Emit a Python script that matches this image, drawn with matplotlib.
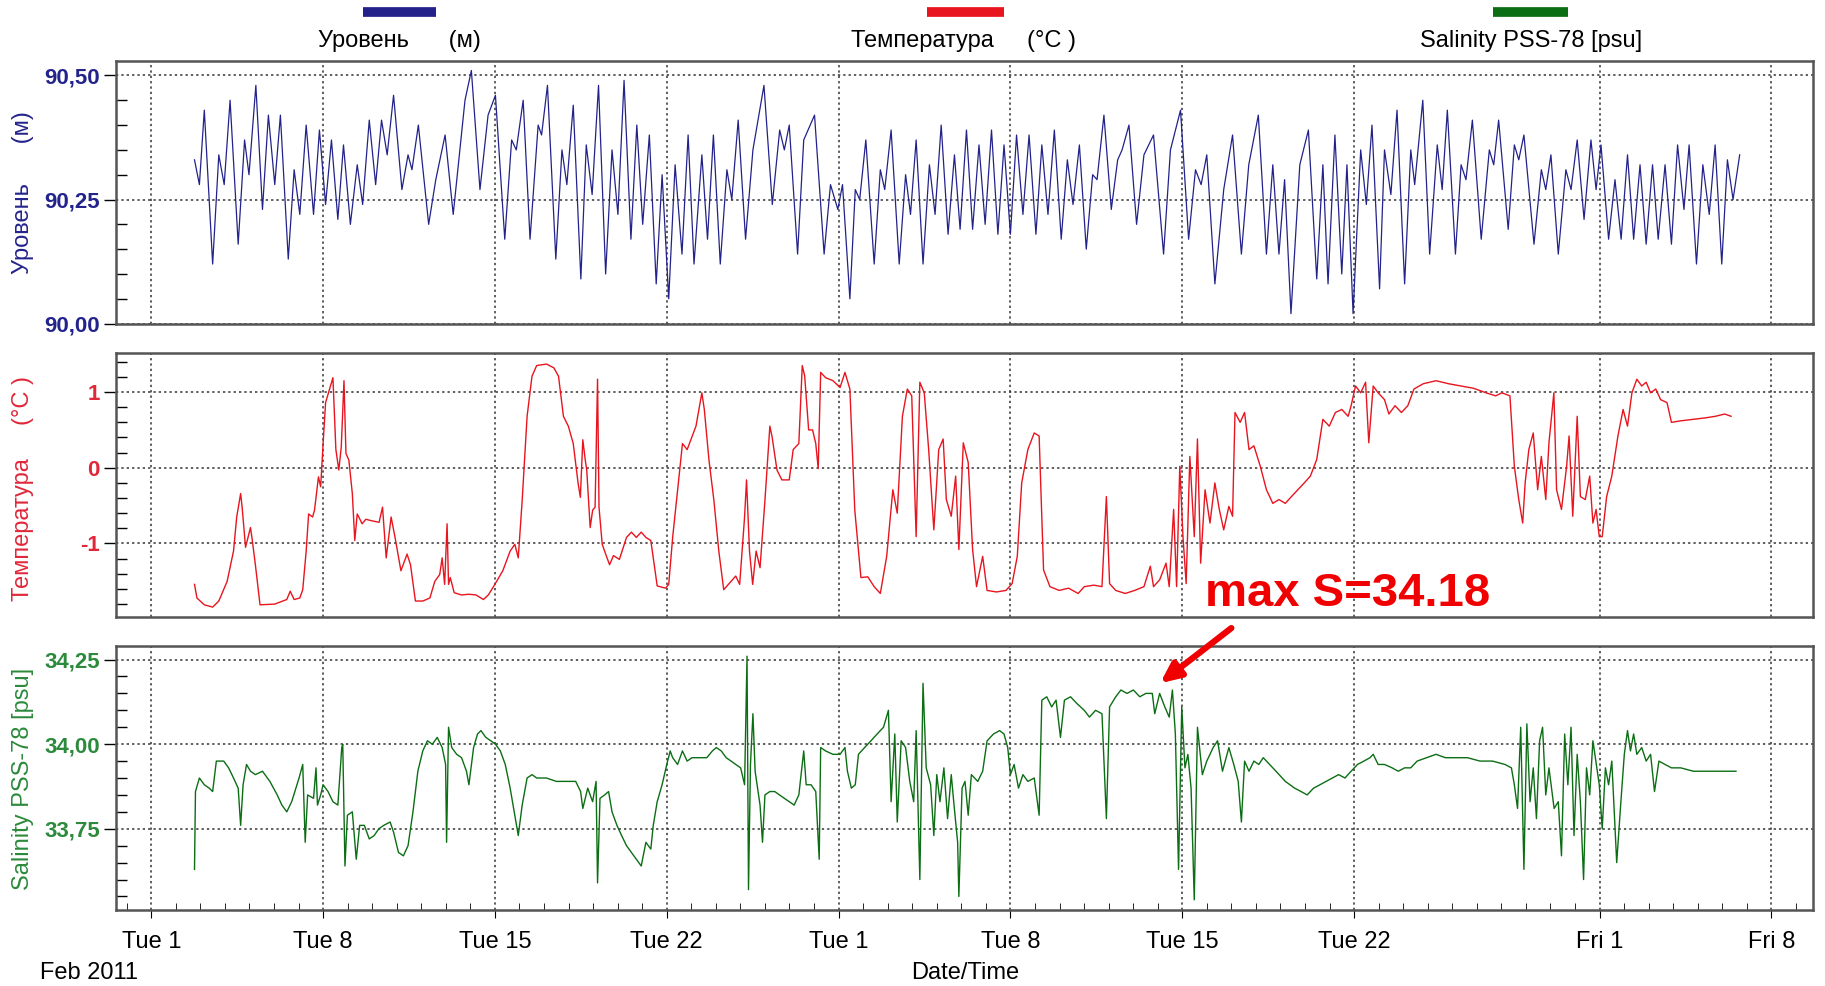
import matplotlib
matplotlib.use('Agg')
import matplotlib.pyplot as plt
from matplotlib.lines import Line2D
from matplotlib.ticker import MultipleLocator, FixedLocator

plt.rcParams['font.family'] = ['Liberation Sans', 'DejaVu Sans']

# time axis: days since Tue 1 Feb 2011
tick_days = [0, 7, 14, 21, 28, 35, 42, 49, 59, 66]
tick_labels = ['Tue 1', 'Tue 8', 'Tue 15', 'Tue 22', 'Tue 1', 'Tue 8',
               'Tue 15', 'Tue 22', 'Fri 1', 'Fri 8']

# water level, m (tidal highs / lows)
level_t = [1.76, 1.96, 2.16, 2.50, 2.75, 2.97, 3.21, 3.54, 3.80, 3.98, 4.26, 4.53,
           4.77, 5.03, 5.26, 5.58, 5.82, 6.05, 6.31, 6.61, 6.85, 7.10, 7.34, 7.60,
           7.83, 8.11, 8.39, 8.61, 8.88, 9.14, 9.38, 9.61, 9.87, 10.21, 10.46, 10.62,
           10.88, 11.30, 11.59, 11.97, 12.30, 12.78, 13.04, 13.39, 13.72, 14.02, 14.40,
           14.68, 14.87, 15.15, 15.43, 15.76, 15.90, 16.14, 16.48, 16.73, 16.93, 17.19,
           17.50, 17.72, 17.96, 18.22, 18.51, 18.77, 19.01, 19.26, 19.54, 19.78, 20.02,
           20.29, 20.57, 20.81, 21.08, 21.34, 21.62, 21.87, 22.11, 22.43, 22.66, 22.90,
           23.18, 23.45, 23.65, 23.91, 24.21, 24.51, 24.96, 25.30, 25.60, 25.79, 25.99,
           26.33, 26.58, 27.02, 27.41, 27.67, 27.97, 28.16, 28.46,
           28.68, 28.86, 29.11, 29.45, 29.70, 29.88, 30.14, 30.47, 30.73, 30.93, 31.16,
           31.44, 31.70, 31.93, 32.18, 32.46, 32.72, 32.95, 33.21, 33.46, 33.72, 33.97,
           34.23, 34.49, 34.74, 35.00, 35.25, 35.51, 35.76, 36.04, 36.28, 36.53, 36.79,
           37.07, 37.32, 37.55, 37.81, 38.09, 38.35, 38.53, 38.81, 39.11, 39.37, 39.55,
           39.83, 40.14, 40.44, 40.83, 41.24, 41.52, 41.93, 42.26, 42.54, 42.77, 43.00,
           43.33, 43.69, 44.05, 44.41, 44.71, 45.10, 45.43, 45.69, 45.94, 46.17, 46.43,
           46.79, 47.14, 47.48, 47.73, 47.94, 48.22, 48.50, 48.71, 48.96, 49.27, 49.50,
           49.73, 50.04, 50.24, 50.50, 50.75, 51.06, 51.31, 51.47, 51.80, 52.08, 52.39,
           52.59, 52.80, 53.13, 53.36, 53.56, 53.82, 54.18, 54.51, 54.69, 54.89, 55.28,
           55.53, 55.71, 55.92, 56.33, 56.63, 56.81, 57.02, 57.32, 57.63, 57.84, 58.09,
           58.37, 58.65, 58.86, 59.06, 59.37, 59.63, 59.88, 60.14, 60.39, 60.65, 60.90,
           61.16, 61.39, 61.67, 61.93, 62.18, 62.44, 62.65, 62.95, 63.21, 63.47, 63.71,
           63.98, 64.21, 64.44, 64.71]
level_v = [90.33, 90.28, 90.43, 90.12, 90.34, 90.28, 90.45, 90.16, 90.37, 90.30, 90.48, 90.23,
           90.42, 90.28, 90.42, 90.13, 90.31, 90.22, 90.40, 90.22, 90.39, 90.24, 90.37, 90.21,
           90.36, 90.20, 90.32, 90.24, 90.41, 90.28, 90.41, 90.34, 90.46, 90.27, 90.34, 90.31,
           90.40, 90.20, 90.29, 90.38, 90.22, 90.45, 90.51, 90.27, 90.42, 90.46, 90.17,
           90.37, 90.35, 90.45, 90.17, 90.40, 90.38, 90.48, 90.13, 90.35, 90.28, 90.44,
           90.09, 90.36, 90.26, 90.48, 90.10, 90.35, 90.22, 90.49, 90.17, 90.40, 90.20,
           90.38, 90.08, 90.30, 90.05, 90.32, 90.14, 90.38, 90.12, 90.34, 90.17, 90.38,
           90.12, 90.31, 90.25, 90.41, 90.17, 90.35, 90.48, 90.24, 90.39, 90.35, 90.40,
           90.14, 90.37, 90.42, 90.14, 90.28, 90.23, 90.28, 90.05,
           90.27, 90.25, 90.37, 90.12, 90.31, 90.27, 90.39, 90.12, 90.30, 90.22, 90.37,
           90.12, 90.32, 90.22, 90.40, 90.18, 90.34, 90.19, 90.39, 90.19, 90.36, 90.20,
           90.39, 90.18, 90.36, 90.18, 90.38, 90.22, 90.38, 90.18, 90.36, 90.22, 90.39,
           90.17, 90.33, 90.24, 90.36, 90.15, 90.30, 90.29, 90.42, 90.23, 90.33, 90.35,
           90.40, 90.20, 90.34, 90.38, 90.14, 90.35, 90.43, 90.17, 90.31, 90.28, 90.34,
           90.08, 90.27, 90.38, 90.14, 90.32, 90.42, 90.14, 90.32, 90.14, 90.29, 90.02,
           90.32, 90.39, 90.09, 90.32, 90.08, 90.38, 90.10, 90.32, 90.02, 90.35, 90.24,
           90.40, 90.07, 90.35, 90.26, 90.43, 90.08, 90.35, 90.28, 90.45, 90.14, 90.36,
           90.27, 90.43, 90.14, 90.32, 90.29, 90.41, 90.17, 90.35, 90.32, 90.41, 90.19,
           90.36, 90.33, 90.38, 90.16, 90.31, 90.27, 90.34, 90.14, 90.31, 90.27, 90.37,
           90.21, 90.37, 90.27, 90.36, 90.17, 90.29, 90.17, 90.34, 90.17, 90.32, 90.16,
           90.32, 90.17, 90.32, 90.16, 90.36, 90.23, 90.36, 90.12, 90.32, 90.22, 90.36,
           90.12, 90.33, 90.25, 90.34]

# temperature, deg C
temp_t = [1.76, 1.86, 2.16, 2.50, 2.75, 3.09, 3.35, 3.48, 3.64, 3.70, 3.84, 4.04, 4.10,
          4.24, 4.43, 5.03, 5.52, 5.66, 5.82, 6.05, 6.17, 6.31, 6.41, 6.57, 6.65, 6.81,
          6.90, 7.00, 7.10, 7.30, 7.40, 7.52, 7.64, 7.74, 7.85, 7.93, 8.05, 8.19, 8.29,
          8.39, 8.59, 8.74, 8.98, 9.28, 9.42, 9.57, 9.77, 9.93, 10.17, 10.42, 10.56,
          10.76, 11.06, 11.35, 11.55, 11.75, 11.85, 11.95, 12.05, 12.11, 12.18, 12.34,
          12.64, 12.94, 13.23, 13.53, 13.73, 13.96, 14.32, 14.62, 14.81, 14.95, 15.11,
          15.31, 15.51, 15.70, 16.10, 16.40, 16.59, 16.79, 16.99, 17.19, 17.39, 17.48,
          17.58, 17.68, 17.74, 17.88, 17.98, 18.08, 18.18, 18.24, 18.37, 18.51, 18.67,
          18.83, 19.07, 19.36, 19.56, 19.76, 19.96, 20.15, 20.35, 20.61, 20.95, 21.08,
          21.24, 21.44, 21.64, 21.83, 22.03, 22.19, 22.43, 22.53, 22.72, 22.92, 23.12,
          23.32, 23.62, 23.81, 23.97, 24.17, 24.25, 24.37, 24.50, 24.64, 24.80, 25.00,
          25.20, 25.29, 25.49, 25.69, 25.99, 26.15, 26.38, 26.52, 26.62, 26.78, 26.94,
          27.07, 27.17, 27.27, 27.47, 27.77, 28.06, 28.26, 28.46, 28.66, 28.91,
          29.19, 29.45, 29.70, 29.96, 30.21, 30.39, 30.60, 30.80, 30.98, 31.16, 31.31,
          31.49, 31.67, 31.88, 32.08, 32.26, 32.39, 32.59, 32.77, 32.90, 33.08, 33.28,
          33.46, 33.62, 33.87, 34.05, 34.43, 34.82, 35.07, 35.28, 35.46, 35.71, 35.97,
          36.17, 36.35, 36.61, 36.99, 37.37, 37.76, 38.01, 38.40, 38.73, 38.91, 39.04,
          39.29, 39.68, 40.06, 40.44, 40.70, 40.83, 41.08, 41.34, 41.47, 41.65, 41.77,
          41.90, 42.03, 42.16, 42.31, 42.49, 42.62, 42.75, 42.93, 43.13, 43.33, 43.51,
          43.69, 43.90, 44.05, 44.15, 44.36, 44.54, 44.72, 44.92, 45.18, 45.43, 45.69,
          45.94, 46.20, 46.45, 46.71, 46.97, 47.22, 47.48, 47.73, 47.99, 48.24, 48.50,
          48.76, 48.88, 49.06, 49.27, 49.47, 49.60, 49.78, 49.98, 50.24, 50.42, 50.67,
          50.93, 51.19, 51.44, 51.82, 52.34, 52.85, 53.36, 53.87, 54.38, 54.77, 55.02,
          55.35, 55.53, 55.71, 55.87, 55.97, 56.12, 56.30, 56.48, 56.63, 56.81, 56.94,
          57.14, 57.25, 57.45, 57.66, 57.76, 57.91, 58.09, 58.22, 58.42, 58.60, 58.73,
          58.86, 58.99, 59.11, 59.29, 59.50, 59.75, 59.96, 60.14, 60.32, 60.52, 60.72,
          60.90, 61.08, 61.29, 61.49, 61.75, 61.93, 62.31, 62.82, 63.33, 63.72, 64.10,
          64.36]
temp_v = [-1.54, -1.72, -1.81, -1.84, -1.76, -1.50, -1.10, -0.65, -0.34, -0.52, -1.05, -0.79, -0.92,
          -1.28, -1.81, -1.80, -1.74, -1.63, -1.74, -1.72, -1.61, -1.10, -0.61, -0.65, -0.56, -0.12,
          -0.25, 0.32, 0.86, 1.08, 1.19, 0.24, -0.03, 0.28, 1.15, 0.19, 0.10, -0.34, -0.96,
          -0.61, -0.74, -0.68, -0.70, -0.72, -0.52, -1.19, -0.65, -0.92, -1.36, -1.14, -1.28,
          -1.76, -1.76, -1.72, -1.50, -1.41, -1.19, -1.54, -0.74, -1.54, -1.45, -1.65,
          -1.68, -1.67, -1.68, -1.74, -1.68, -1.56, -1.36, -1.10, -1.01, -1.19, -0.43,
          0.68, 1.21, 1.35, 1.37, 1.32, 1.21, 0.68, 0.55, 0.32, -0.21, -0.39,
          0.37, 0.10, -0.03, -0.79, -0.56, -0.52, 1.17, -0.52, -1.01, -1.14, -1.28,
          -1.16, -1.21, -0.92, -0.85, -0.92, -0.85, -0.92, -0.96, -1.56, -1.59, -1.54,
          -0.92, -0.30, 0.32, 0.24, 0.41, 0.55, 0.99, 0.77, 0.10, -0.43, -1.10,
          -1.61, -1.50, -1.43, -1.54, -0.65, -0.16, -1.10, -1.54, -1.10, -1.32, -0.43,
          0.55, 0.41, -0.03, -0.16, -0.16, 0.24, 0.32, 1.35, 1.21, 0.50, 0.50,
          0.32, -0.01, 1.26, 1.19, 1.15, 1.06, 1.26, 1.04, -0.56, -1.45,
          -1.44, -1.57, -1.66, -1.17, -0.29, -0.60, 0.68, 1.04, 0.95, -0.91, 1.13,
          0.99, 0.24, -0.82, 0.24, 0.38, -0.42, -0.64, -0.11, -1.08, 0.33, 0.07,
          -1.08, -1.57, -1.17, -1.62, -1.64, -1.62, -1.53, -1.17, -0.20, 0.24, 0.46,
          0.42, -1.35, -1.57, -1.62, -1.59, -1.66, -1.57, -1.55, -1.57, -0.38, -1.53,
          -1.62, -1.66, -1.62, -1.57, -1.30, -1.57, -1.48, -1.26, -1.57, -0.55, -1.57,
          0.02, -0.91, -1.53, 0.15, -0.91, 0.38, -1.26, -0.29, -0.73, -0.20, -0.55,
          -0.82, -0.51, -0.64, 0.73, 0.60, 0.73, 0.24, 0.29, 0.02, -0.29, -0.47,
          -0.42, -0.47, -0.38, -0.29, -0.20, -0.11, 0.11, 0.64, 0.55, 0.73, 0.77,
          0.68, 0.82, 1.08, 0.99, 1.13, 0.33, 1.08, 0.99, 0.90, 0.71, 0.82,
          0.73, 0.82, 1.04, 1.11, 1.15, 1.11, 1.08, 1.05, 0.99, 0.95, 0.99,
          0.95, 0.02, -0.42, -0.73, -0.20, 0.24, 0.46, -0.29, 0.15, -0.42, 0.33,
          0.99, -0.29, -0.55, 0.02, 0.42, -0.64, 0.68, -0.38, -0.42, -0.11, -0.73,
          -0.55, -0.91, -0.91, -0.38, -0.11, 0.42, 0.77, 0.55, 0.99, 1.17, 1.08,
          1.13, 0.99, 1.04, 0.90, 0.86, 0.60, 0.62, 0.64, 0.66, 0.68, 0.71,
          0.68]

# salinity, PSS-78
sal_t = [1.76, 1.80, 1.96, 2.16, 2.36, 2.50, 2.65, 2.95, 3.15, 3.35, 3.54, 3.64, 3.74,
         3.88, 4.04, 4.24, 4.53, 4.83, 5.13, 5.32, 5.52, 5.72, 6.02, 6.17, 6.27, 6.37,
         6.61, 6.71, 6.77, 6.90, 7.00, 7.20, 7.40, 7.60, 7.76, 7.80, 7.89, 7.99, 8.19,
         8.35, 8.49, 8.68, 8.88, 9.08, 9.27, 9.47, 9.73, 9.87, 10.07, 10.27, 10.46,
         10.66, 10.86, 11.06, 11.25, 11.45, 11.65, 11.85, 11.99, 12.03, 12.11, 12.24,
         12.44, 12.64, 12.84, 12.94, 13.13, 13.29, 13.43, 13.63, 13.83, 14.02, 14.22,
         14.42, 14.62, 14.81, 14.95, 15.11, 15.31, 15.51, 15.70, 16.10, 16.50, 16.89,
         17.29, 17.49, 17.58, 17.78, 17.98, 18.12, 18.18, 18.28, 18.47, 18.63, 18.77,
         18.97, 19.16, 19.36, 19.56, 19.76, 19.96, 20.15, 20.35, 20.45, 20.61, 20.81,
         21.00, 21.14, 21.24, 21.44, 21.64, 21.83, 22.03, 22.33, 22.63, 22.86, 23.02,
         23.22, 23.42, 23.62, 23.81, 24.01, 24.17, 24.27, 24.33, 24.41, 24.51, 24.60,
         24.80, 24.90, 25.00, 25.20, 25.40, 25.59, 25.79, 25.99, 26.19, 26.38, 26.58,
         26.68, 26.88, 27.07, 27.21, 27.27, 27.47, 27.77, 28.06, 28.26, 28.36, 28.52,
         28.68, 28.81, 29.06, 29.32, 29.57, 29.83, 30.03, 30.14, 30.29, 30.39, 30.55,
         30.73, 30.90, 31.06, 31.16, 31.31, 31.44, 31.57, 31.75, 31.88, 32.00, 32.13,
         32.29, 32.44, 32.59, 32.69, 32.85, 32.90, 33.03, 33.15, 33.28, 33.41, 33.67,
         33.87, 34.05, 34.31, 34.56, 34.74, 34.89, 35.00, 35.15, 35.33, 35.51, 35.71,
         35.97, 36.17, 36.28, 36.48, 36.68, 36.86, 37.04, 37.20, 37.45, 37.71, 38.01,
         38.22, 38.47, 38.73, 38.91, 39.04, 39.29, 39.50, 39.75, 40.01, 40.27, 40.52,
         40.78, 40.88, 41.08, 41.29, 41.47, 41.60, 41.72, 41.85, 41.98, 42.11, 42.23,
         42.36, 42.49, 42.62, 42.82, 43.00, 43.26, 43.44, 43.64, 43.90, 44.10, 44.28,
         44.41, 44.54, 44.72, 44.92, 45.12, 45.30, 45.56, 45.82, 46.20, 46.58, 46.84,
         47.09, 47.35, 47.61, 47.86, 48.12, 48.37, 48.63, 48.88, 49.14, 49.40, 49.65,
         49.78, 49.98, 50.24, 50.55, 50.80, 51.06, 51.31, 51.57, 51.95, 52.34, 52.72,
         53.10, 53.62, 54.13, 54.64, 55.15, 55.41, 55.53, 55.66, 55.79, 55.92, 56.04,
         56.17, 56.30, 56.43, 56.56, 56.68, 56.81, 56.94, 57.15, 57.32, 57.45, 57.58,
         57.71, 57.84, 57.96, 58.09, 58.22, 58.35, 58.47, 58.60, 58.73, 58.99, 59.11,
         59.24, 59.37, 59.50, 59.70, 59.88, 60.01, 60.14, 60.26, 60.39, 60.52, 60.72,
         60.90, 61.08, 61.24, 61.42, 61.67, 61.93, 62.31, 62.82, 63.33, 63.85, 64.36,
         64.56]
sal_v = [33.63, 33.86, 33.90, 33.88, 33.87, 33.86, 33.95, 33.95, 33.93, 33.90, 33.87, 33.76, 33.88,
         33.94, 33.92, 33.91, 33.92, 33.89, 33.85, 33.82, 33.80, 33.83, 33.90, 33.94, 33.71, 33.85,
         33.84, 33.93, 33.82, 33.85, 33.88, 33.86, 33.83, 33.82, 33.99, 34.00, 33.64, 33.79, 33.80,
         33.66, 33.76, 33.76, 33.72, 33.73, 33.75, 33.76, 33.77, 33.74, 33.68, 33.67, 33.70,
         33.80, 33.92, 33.98, 34.01, 34.00, 34.02, 33.99, 33.94, 33.71, 34.05, 33.99,
         33.97, 33.96, 33.92, 33.88, 33.99, 34.03, 34.04, 34.02, 34.01, 34.00, 33.98,
         33.94, 33.87, 33.79, 33.73, 33.82, 33.90, 33.91, 33.90, 33.90, 33.89, 33.89,
         33.89, 33.86, 33.81, 33.87, 33.83, 33.89, 33.59, 33.84, 33.85, 33.86, 33.80,
         33.76, 33.73, 33.70, 33.68, 33.66, 33.64, 33.71, 33.69, 33.76, 33.83, 33.88,
         33.94, 33.98, 33.96, 33.94, 33.98, 33.95, 33.96, 33.96, 33.96, 33.98, 33.99,
         33.98, 33.96, 33.95, 33.94, 33.93, 33.88, 34.26, 33.57, 33.94, 34.09, 33.92,
         33.82, 33.71, 33.85, 33.86, 33.86, 33.85, 33.84, 33.83, 33.82, 33.85, 33.98,
         33.88, 33.88, 33.86, 33.66, 33.99, 33.98, 33.97, 33.97, 33.99, 33.92, 33.87,
         33.88, 33.97, 33.99, 34.01, 34.03, 34.05, 34.10, 33.83, 34.03, 33.77, 34.01,
         33.99, 33.89, 33.83, 34.04, 33.60, 34.18, 33.93, 33.88, 33.73, 33.91, 33.83,
         33.93, 33.78, 33.91, 33.83, 33.71, 33.55, 33.87, 33.89, 33.79, 33.91, 33.89,
         33.92, 34.01, 34.03, 34.04, 34.03, 33.99, 33.91, 33.94, 33.87, 33.91, 33.89,
         33.90, 33.79, 34.13, 34.14, 34.11, 34.13, 34.02, 34.13, 34.14, 34.12, 34.10,
         34.08, 34.10, 34.09, 33.78, 34.11, 34.14, 34.16, 34.15, 34.16, 34.14, 34.15,
         34.15, 34.09, 34.15, 34.11, 34.08, 34.16, 34.03, 33.63, 34.11, 33.93, 33.97,
         33.87, 33.54, 34.05, 33.91, 33.95, 33.99, 34.01, 33.92, 33.99, 33.94, 33.89,
         33.77, 33.95, 33.92, 33.95, 33.94, 33.96, 33.94, 33.92, 33.89, 33.87, 33.86,
         33.85, 33.87, 33.88, 33.89, 33.90, 33.91, 33.90, 33.92, 33.94, 33.95, 33.96,
         33.97, 33.94, 33.94, 33.93, 33.92, 33.93, 33.93, 33.95, 33.96, 33.97, 33.96,
         33.96, 33.96, 33.95, 33.95, 33.94, 33.93, 33.88, 33.81, 34.05, 33.63, 34.06,
         33.83, 33.93, 33.78, 34.01, 34.05, 33.85, 33.93, 33.81, 33.83, 33.67, 34.03,
         33.88, 34.05, 33.73, 33.97, 33.83, 33.60, 33.93, 33.85, 34.01, 33.88, 33.75,
         33.93, 33.88, 33.95, 33.65, 33.84, 33.97, 34.04, 33.98, 34.03, 33.97, 33.99,
         33.95, 33.97, 33.86, 33.95, 33.94, 33.93, 33.93, 33.92, 33.92, 33.92, 33.92,
         33.92]

c_level = '#22228a'
c_temp = '#e8141e'
c_sal = '#0c6e14'

fig = plt.figure(figsize=(18.25, 9.86), dpi=100)
left, width = 0.0638, 0.9298
ax1 = fig.add_axes([left, 0.6718, width, 0.2668])
ax2 = fig.add_axes([left, 0.3743, width, 0.2680])
ax3 = fig.add_axes([left, 0.0771, width, 0.2677])

ax1.plot(level_t, level_v, color=c_level, lw=0.9)
ax2.plot(temp_t, temp_v, color=c_temp, lw=1.0)
ax3.plot(sal_t, sal_v, color=c_sal, lw=1.0)

ax1.set_ylim(90.0, 90.53)
ax1.set_yticks([90.0, 90.25, 90.5])
ax1.set_yticklabels(['90,00', '90,25', '90,50'])
ax1.yaxis.set_minor_locator(MultipleLocator(0.05))

ax2.set_ylim(-1.97, 1.52)
ax2.set_yticks([-1, 0, 1])
ax2.set_yticklabels(['-1', '0', '1'])
ax2.yaxis.set_minor_locator(MultipleLocator(0.2))

ax3.set_ylim(33.51, 34.29)
ax3.set_yticks([33.75, 34.0, 34.25])
ax3.set_yticklabels(['33,75', '34,00', '34,25'])
ax3.yaxis.set_minor_locator(MultipleLocator(0.05))

for ax, col in [(ax1, '#23238c'), (ax2, '#e0283a'), (ax3, '#2c8a3c')]:
    ax.set_xlim(-1.42, 67.71)
    ax.set_xticks(tick_days)
    ax.grid(True, which='major', linestyle=(0, (1.5, 2)), color='#333333', lw=1.1)
    ax.tick_params(axis='y', which='major', direction='out', length=9, width=1,
                   labelsize=16, labelcolor=col, pad=3)
    ax.tick_params(axis='y', which='minor', direction='in', length=8, width=1)
    for lab in ax.get_yticklabels():
        lab.set_fontweight('bold')
    for s in ax.spines.values():
        s.set_color('#555555')
        s.set_linewidth(1.8)

ax1.tick_params(axis='x', length=0, labelbottom=False)
ax2.tick_params(axis='x', length=0, labelbottom=False)
ax3.set_xticklabels(tick_labels)
ax3.xaxis.set_minor_locator(FixedLocator(list(range(-1, 68))))
ax3.tick_params(axis='x', which='major', direction='out', length=6, pad=9, labelsize=17)
ax3.tick_params(axis='x', which='minor', direction='in', length=5)

# axis titles
fig.text(0.0127, 0.805, 'Уровень      (м)', rotation=90, ha='center', va='center',
         fontsize=17, color='#23238c')
fig.text(0.0127, 0.505, 'Температура     (°C )', rotation=90, ha='center', va='center',
         fontsize=17, color='#e0283a')
fig.text(0.0127, 0.21, 'Salinity PSS-78 [psu]', rotation=90, ha='center', va='center',
         fontsize=17, color='#2c8a3c')

fig.text(0.022, 0.013, 'Feb 2011', fontsize=17, va='center')
fig.text(0.529, 0.013, 'Date/Time', fontsize=17, ha='center', va='center')

# legend on top
legend_items = [('Уровень      (м)', c_level, 0.199, 0.239, 0.219),
                ('Температура     (°C )', c_temp, 0.508, 0.550, 0.528),
                ('Salinity PSS-78 [psu]', c_sal, 0.818, 0.859, 0.839)]
for name, col, x0, x1, xc in legend_items:
    fig.add_artist(Line2D([x0, x1], [0.988, 0.988], transform=fig.transFigure,
                          color=col, lw=7, solid_capstyle='butt'))
    fig.text(xc, 0.958, name, ha='center', va='center', fontsize=17)

# max salinity note
fig.text(0.7385, 0.398, 'max S=34.18', ha='center', va='center', fontsize=34,
         fontweight='bold', color='#f00000')
ax3.annotate('', xy=(41.1, 34.18), xytext=(44.0, 34.343), annotation_clip=False,
             arrowprops=dict(arrowstyle='-|>,head_length=1.2,head_width=0.55',
                             color='#f00000', lw=4.5, shrinkA=0, shrinkB=0))

fig.savefig('out.png', dpi=100)
